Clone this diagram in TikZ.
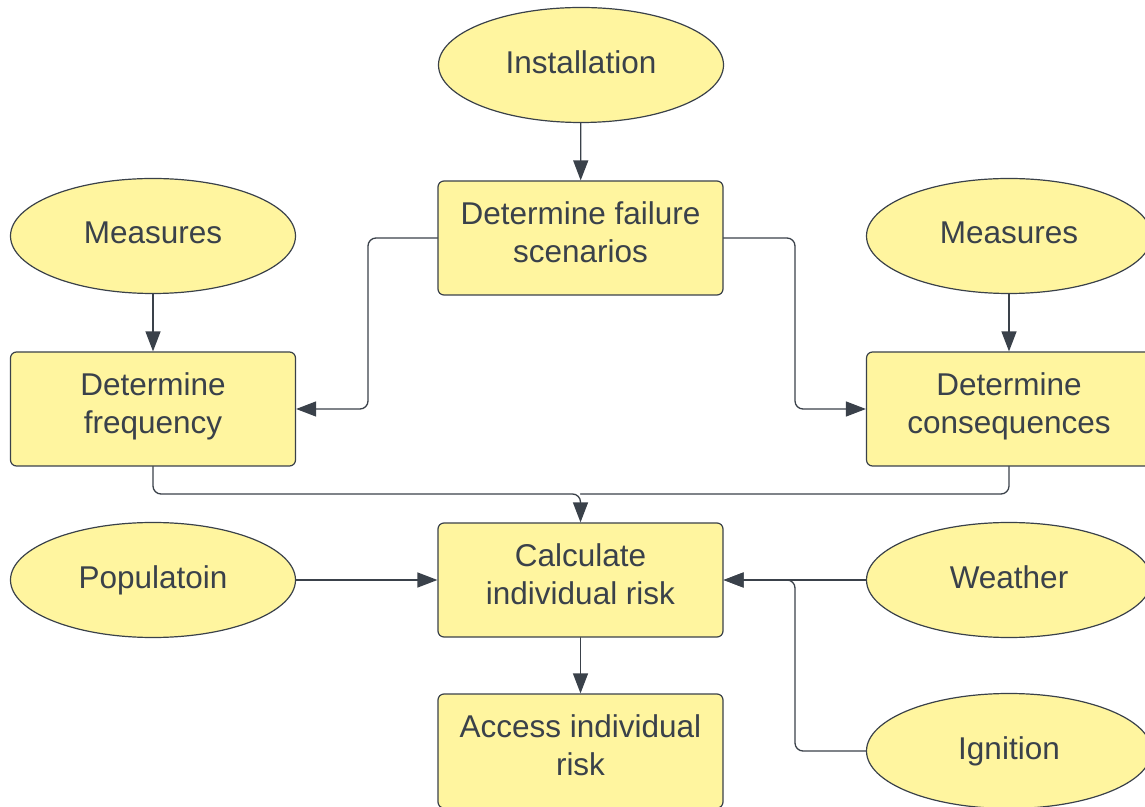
\documentclass[tikz,border=0pt]{standalone}
\usepackage{fontspec}
\setmainfont{Liberation Sans}
\usetikzlibrary{arrows.meta,shapes.geometric}
\definecolor{boxfill}{HTML}{FFF59F}
\definecolor{inkgray}{HTML}{3A414A}

\begin{document}
\begin{tikzpicture}[line cap=round,line join=round,x=1pt,y=1pt,
  >={Triangle[length=20pt,width=15pt]},
  box/.style={draw=inkgray,fill=boxfill,line width=1.2pt,rounded corners=6pt,
    minimum width=285pt,minimum height=114pt,inner sep=0pt,align=center,
    text depth=12pt,text=inkgray,font=\fontsize{31.5}{37.5}\selectfont},
  oval/.style={ellipse,draw=inkgray,fill=boxfill,line width=1.2pt,
    minimum width=285pt,minimum height=115pt,inner sep=0pt,align=center,
    text depth=6.5pt,text=inkgray,font=\fontsize{31.5}{37.5}\selectfont},
  link/.style={draw=inkgray,line width=1.3pt,rounded corners=8pt}]

\useasboundingbox (0,0) rectangle (1145,806);
\clip (0,0) rectangle (1145,806);

\node[oval] (install) at (581,741) {Installation};
\node[box] (failure) at (580.5,568) {Determine failure\\scenarios};

\node[oval] (measuresL) at (153,570) {Measures};
\node[oval] (measuresR) at (1009,570) {Measures};
\node[box] (frequency) at (153,397) {Determine\\frequency};
\node[box] (consequences) at (1009,397) {Determine\\consequences};

\node[box] (calc) at (580.5,226) {Calculate\\individual risk};
\node[oval] (population) at (153,226) {Populatoin};
\node[oval] (weather) at (1009,226) {Weather};
\node[box] (access) at (580.5,55) {Access individual\\risk};
\node[oval] (ignition) at (1009,55) {Ignition};

\coordinate (join) at (580.5,312);

\draw[link,->] (install) -- (failure);
\draw[link,->] (failure.west) -- (368,568) |- (frequency.east);
\draw[link,->] (failure.east) -- (795,568) |- (consequences.west);
\draw[link,->] (measuresL) -- (frequency);
\draw[link,->] (measuresR) -- (consequences);

\draw[link,->] (frequency.south) |- (join) -- (calc.north);
\draw[link] (consequences.south) |- (join);

\draw[link,->] (population.east) -- (calc.west);
\draw[link,->] (weather.west) -- (calc.east);
\draw[link,->] (ignition.west) -| (795,226) -- (calc.east);
\draw[link,->] (calc) -- (access);
\end{tikzpicture}
\end{document}
